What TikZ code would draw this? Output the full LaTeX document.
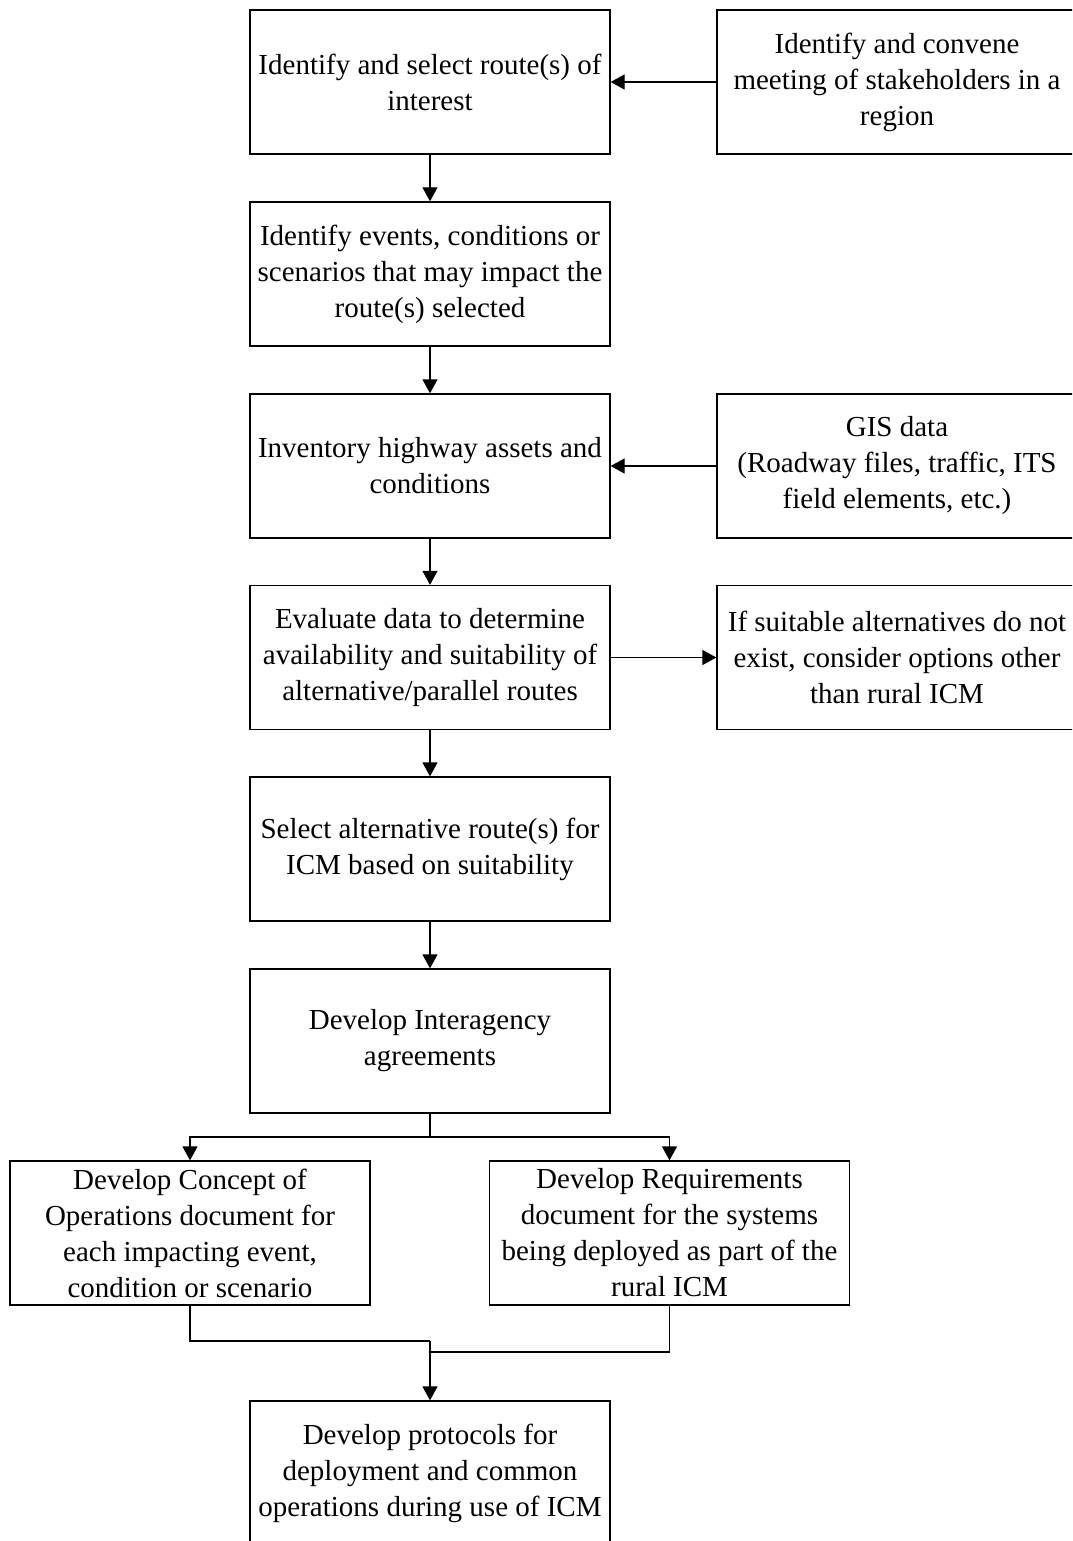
\documentclass[tikz,border=0pt]{standalone}
\usepackage{fontspec}
\setmainfont{Liberation Serif}
\usetikzlibrary{arrows.meta}
\begin{document}
\begin{tikzpicture}[x=1pt,y=-1pt,
  box/.style={draw, line width=1.3pt, minimum width=360pt, minimum height=144pt,
    align=center, inner sep=0pt, font=\fontsize{29}{36}\selectfont},
  conn/.style={line width=1.3pt},
  arr/.style={conn, -{Triangle[length=14pt,width=15pt]}}]
\clip (0,0) rectangle (1072,1541);
\fill[white] (0,0) rectangle (1072,1541);
\node[box] (b1) at (430,82) {Identify and select route(s) of\\interest};
\node[box] (r1) at (897,82) {Identify and convene\\meeting of stakeholders in a\\region};
\node[box] (b2) at (430,274) {Identify events, conditions or\\scenarios that may impact the\\route(s) selected};
\node[box] (b3) at (430,466) {Inventory highway assets and\\conditions};
\node[box] (r3) at (897,466) {GIS data\\(Roadway files, traffic, ITS\\field elements, etc.)};
\node[box] (b4) at (430,657.5) {Evaluate data to determine\\availability and suitability of\\alternative/parallel routes};
\node[box] (r4) at (897,657.5) {If suitable alternatives do not\\exist, consider options other\\than rural ICM};
\node[box] (b5) at (430,849) {Select alternative route(s) for\\ICM based on suitability};
\node[box] (b6) at (430,1041) {Develop Interagency\\agreements};
\node[box] (l7) at (190,1233) {Develop Concept of\\Operations document for\\each impacting event,\\condition or scenario};
\node[box] (r7) at (669.5,1233) {Develop Requirements\\document for the systems\\being deployed as part of the\\rural ICM};
\node[box] (b8) at (430,1473) {Develop protocols for\\deployment and common\\operations during use of ICM};
\coordinate (s6) at (430,1137);
\coordinate (m1) at (430,1341);
\coordinate (m2) at (430,1352);
\draw[arr] (r1.west) -- (b1.east);
\draw[arr] (b1.south) -- (b2.north);
\draw[arr] (b2.south) -- (b3.north);
\draw[arr] (r3.west) -- (b3.east);
\draw[arr] (b3.south) -- (b4.north);
\draw[arr] (b4.east) -- (r4.west);
\draw[arr] (b4.south) -- (b5.north);
\draw[arr] (b5.south) -- (b6.north);
\draw[conn] (b6.south) -- (s6);
\draw[arr] (s6) -| (l7.north);
\draw[arr] (s6) -| (r7.north);
\draw[conn] (l7.south) |- (m1);
\draw[conn] (r7.south) |- (m2);
\draw[arr] (m1) -- (b8.north);
\end{tikzpicture}
\end{document}
